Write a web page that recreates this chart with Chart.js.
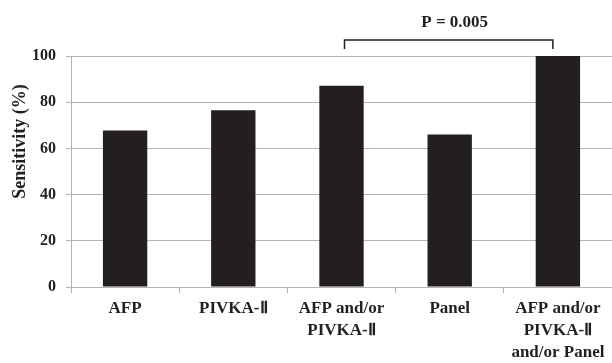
<!DOCTYPE html>
<html>
<head>
<meta charset="utf-8">
<script src="https://cdn.jsdelivr.net/npm/chart.js@4"></script>
<style>
  html, body { margin: 0; padding: 0; background: #fff; }
  #wrap { width: 612px; height: 363px; }
</style>
</head>
<body>
<div id="wrap"><canvas id="sens-chart" width="612" height="363"></canvas></div>
<script>
const categories = [
  "AFP",
  "PIVKA-\u2161",
  ["AFP and/or", "PIVKA-\u2161"],
  "Panel",
  ["AFP and/or", "PIVKA-\u2161", "and/or Panel"],
];
const sensitivity = [67.7, 76.5, 87.1, 66.0, 100];
const yTicks = [0, 20, 40, 60, 80, 100];
const yTitle = "Sensitivity (%)";
const pLabel = "P = 0.005";
const pPair = [2, 4];

const ink = "#231f20";
const gridGrey = "#b4b4b4";
const serif = "'Liberation Serif', 'Times New Roman', serif";

// bracket + p value above the two compared bars, and the y title
// (the title sits above the axis middle in the original, so it is drawn here)
const extrasPlugin = {
  id: "extras",
  afterDraw(chart) {
    const ctx = chart.ctx;
    const x = chart.scales.x, y = chart.scales.y;
    const x1 = x.getPixelForValue(pPair[0]) + 3;
    const x2 = x.getPixelForValue(pPair[1]) - 5;
    const top = y.getPixelForValue(100) - 16;
    ctx.save();
    ctx.strokeStyle = ink;
    ctx.lineWidth = 1.5;
    ctx.beginPath();
    ctx.moveTo(x1, top + 9);
    ctx.lineTo(x1, top);
    ctx.lineTo(x2, top);
    ctx.lineTo(x2, top + 9);
    ctx.stroke();
    ctx.fillStyle = ink;
    ctx.font = "bold 17px " + serif;
    ctx.textAlign = "center";
    ctx.textBaseline = "middle";
    ctx.fillText(pLabel, (x1 + x2) / 2 + 6, top - 17);

    ctx.font = "bold 18px " + serif;
    ctx.translate(20, y.getPixelForValue(63));
    ctx.rotate(-Math.PI / 2);
    ctx.fillText(yTitle, 0, 0);
    ctx.restore();
  },
};

new Chart("sens-chart", {
  type: "bar",
  data: {
    labels: categories,
    datasets: [
      {
        data: sensitivity,
        backgroundColor: ink,
        borderWidth: 0,
        barPercentage: 0.41,
        categoryPercentage: 1,
      },
    ],
  },
  options: {
    responsive: false,
    animation: false,
    layout: { padding: { top: 56, right: 0, left: 0, bottom: 0 } },
    plugins: { legend: { display: false }, tooltip: { enabled: false } },
    scales: {
      x: {
        grid: {
          offset: true,
          drawOnChartArea: false,
          tickLength: 6,
          color: gridGrey,
        },
        border: { color: gridGrey },
        ticks: {
          color: ink,
          padding: 5,
          maxRotation: 0,
          autoSkip: false,
          font: { family: serif, size: 17, weight: "bold", lineHeight: 1.28 },
        },
        afterFit: (s) => { s.height = 76; },
      },
      y: {
        min: 0,
        max: 100,
        afterBuildTicks: (s) => { s.ticks = yTicks.map((v) => ({ value: v })); },
        grid: { color: gridGrey, tickLength: 5 },
        border: { color: gridGrey },
        ticks: {
          color: ink,
          padding: 10,
          font: { family: serif, size: 16, weight: "bold" },
        },
        afterFit: (s) => { s.width = 71; },
      },
    },
  },
  plugins: [extrasPlugin],
});
</script>
</body>
</html>
